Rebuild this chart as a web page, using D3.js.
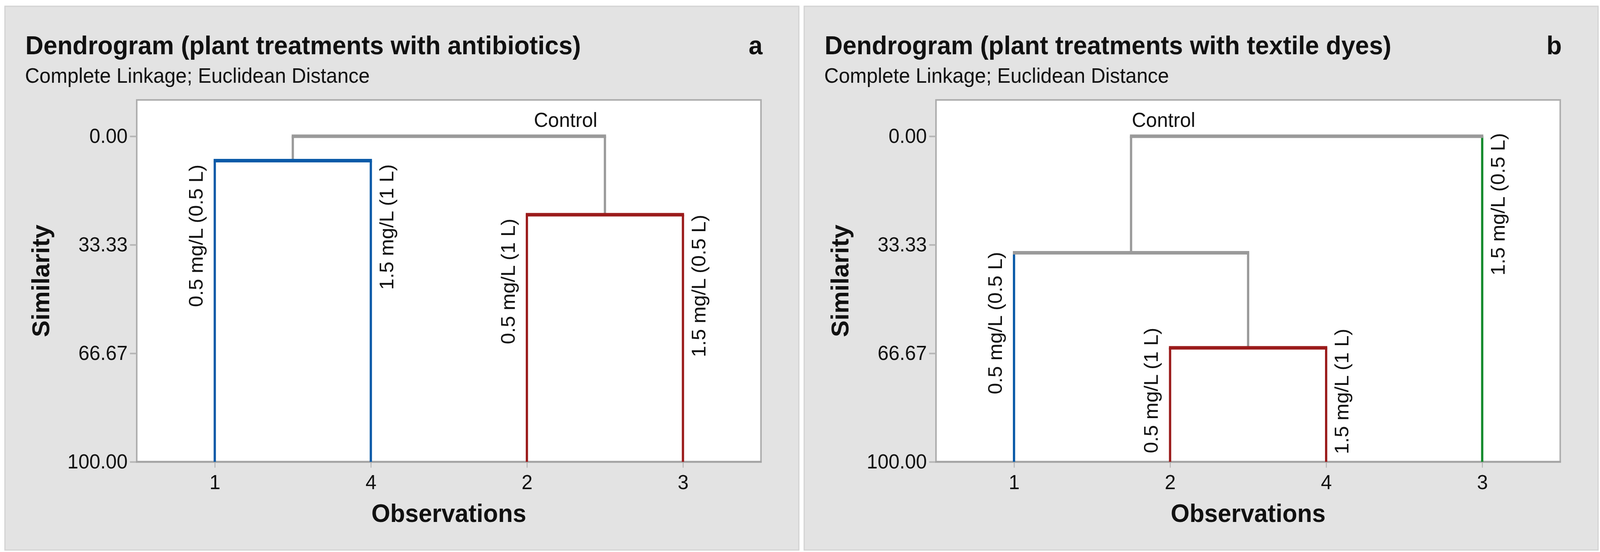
<!DOCTYPE html>
<html>
<head>
<meta charset="utf-8">
<script src="https://cdn.jsdelivr.net/npm/d3@7/dist/d3.min.js"></script>
<style>
  html, body { margin: 0; padding: 0; background: #ffffff; overflow: hidden; width: 100%; height: 100%; }
  svg { display: block; width: 100vw; height: 100vh; }
  text { font-family: "Liberation Sans", Arial, "DejaVu Sans", sans-serif; fill: #111; }
</style>
</head>
<body>
<script>
// ---------------- DATA ----------------
const subtitleText = "Complete Linkage; Euclidean Distance";
const yTickValues = [0, 33.33, 66.67, 100];
const yTickLabels = ["0.00", "33.33", "66.67", "100.00"];
const obsIds = ["1", "2", "3", "4"];
const obsLabels = ["0.5 mg/L (0.5 L)", "0.5 mg/L (1 L)", "1.5 mg/L (0.5 L)", "1.5 mg/L (1 L)"];

// Panel a: antibiotics
const titleA = "Dendrogram (plant treatments with antibiotics)";
const letterA = "a";
const orderA = ["1", "4", "2", "3"];
const leafGroupA = [1, 1, 2, 2];              // cluster membership (aligned with orderA)
const mergesA = [["1", "4"], ["2", "3"], ["m0", "m1"]];
const mergeSimA = [7.5, 24.1, 0];             // similarity at which merges occur
const mergeGroupA = [1, 2, 0];
const labelEndA = [8.7, 8.6, 25.3, 24.1];     // similarity where each leaf label ends

// Panel b: textile dyes
const titleB = "Dendrogram (plant treatments with textile dyes)";
const letterB = "b";
const orderB = ["1", "2", "4", "3"];
const leafGroupB = [1, 2, 2, 3];
const mergesB = [["2", "4"], ["1", "m0"], ["m1", "3"]];
const mergeSimB = [65.0, 35.8, 0];
const mergeGroupB = [2, 0, 0];
const labelEndB = [35.5, 58.8, 59.1, -1.0];

const rootLabel = "Control";

// ---------------- STYLE / LAYOUT ----------------
const W = 4224, H = 1414;
const groupColor = { 0: "#9a9a9a", 1: "#0a5aa8", 2: "#9b1b1b", 3: "#138a2c" };
const panels = [
  { dx: 0,    title: titleA, letter: letterA, order: orderA, leafGroup: leafGroupA,
    merges: mergesA, mergeSim: mergeSimA, mergeGroup: mergeGroupA, labelEnd: labelEndA,
    sides: ["left", "right", "left", "right"], rootAnchor: "end" },
  { dx: 2110, title: titleB, letter: letterB, order: orderB, leafGroup: leafGroupB,
    merges: mergesB, mergeSim: mergeSimB, mergeGroup: mergeGroupB, labelEnd: labelEndB,
    sides: ["left", "left", "right", "right"], rootAnchor: "start" }
];

const bg = { x: 13, y: 16, w: 2096, h: 1393 };
const plot = { x0: 361, x1: 2009, y0: 256, y1: 1183 };
const yZero = 349;

const svg = d3.select("body").append("svg")
  .attr("viewBox", `0 0 ${W} ${H}`)
  .attr("preserveAspectRatio", "none");
svg.append("rect").attr("width", W).attr("height", H).attr("fill", "#ffffff");

function drawPanel(p) {
  const g = svg.append("g").attr("transform", `translate(${p.dx},0)`);

  g.append("rect").attr("x", bg.x).attr("y", bg.y).attr("width", bg.w).attr("height", bg.h)
    .attr("fill", "#e3e3e3").attr("stroke", "#d3d3d3").attr("stroke-width", 3);

  g.append("text").attr("x", 67).attr("y", 139).attr("font-size", 66).attr("font-weight", "bold")
    .text(p.title);
  g.append("text").attr("x", plot.x1 + 4).attr("y", 139).attr("font-size", 66).attr("font-weight", "bold")
    .attr("text-anchor", "end").text(p.letter);
  g.append("text").attr("x", 66).attr("y", 212).attr("font-size", 53).text(subtitleText);

  // plot area
  g.append("rect").attr("x", plot.x0).attr("y", plot.y0)
    .attr("width", plot.x1 - plot.x0).attr("height", plot.y1 - plot.y0)
    .attr("fill", "#ffffff").attr("stroke", "#adadad").attr("stroke-width", 4);

  const y = d3.scaleLinear().domain([0, 100]).range([yZero, plot.y1]);
  const x = d3.scalePoint().domain(p.order).range([plot.x0, plot.x1]).padding(0.5);

  // y axis
  const yAxis = g.append("g").attr("transform", `translate(${plot.x0},0)`)
    .call(d3.axisLeft(y).tickValues(yTickValues).tickFormat((d, i) => yTickLabels[i])
      .tickSize(18).tickPadding(6));
  yAxis.select(".domain").remove();
  yAxis.selectAll(".tick line").attr("stroke", "#b5b5b5").attr("stroke-width", 4);
  yAxis.selectAll(".tick text").attr("font-size", 52).attr("fill", "#111")
    .attr("font-family", '"Liberation Sans", Arial, sans-serif');

  // x axis
  const xAxis = g.append("g").attr("transform", `translate(0,${plot.y1})`)
    .call(d3.axisBottom(x).tickSize(15).tickPadding(18));
  xAxis.select(".domain").remove();
  xAxis.selectAll(".tick line").attr("stroke", "#b5b5b5").attr("stroke-width", 2.5);
  xAxis.selectAll(".tick text").attr("font-size", 52).attr("fill", "#111")
    .attr("font-family", '"Liberation Sans", Arial, sans-serif');

  // bottom axis line (drawn over plot border)
  g.append("line").attr("x1", plot.x0 - 2).attr("x2", plot.x1 + 2)
    .attr("y1", plot.y1).attr("y2", plot.y1)
    .attr("stroke", "#a3a3a3").attr("stroke-width", 5);

  // axis titles
  g.append("text").attr("x", (plot.x0 + plot.x1) / 2).attr("y", 1337)
    .attr("text-anchor", "middle").attr("font-size", 64).attr("font-weight", "bold")
    .text("Observations");
  g.append("text").attr("transform", `translate(130,${(plot.y0 + plot.y1) / 2}) rotate(-90)`)
    .attr("text-anchor", "middle").attr("font-size", 64).attr("font-weight", "bold")
    .text("Similarity");

  // ---- dendrogram ----
  const nodes = {};
  p.order.forEach((id, i) => {
    nodes[id] = { x: x(id), sim: 100, leaf: true, group: p.leafGroup[i] };
  });
  const vSegs = [], hSegs = [];
  p.merges.forEach((m, k) => {
    const a = nodes[m[0]], b = nodes[m[1]];
    const s = p.mergeSim[k], grp = p.mergeGroup[k];
    [a, b].forEach(c => {
      vSegs.push({ x: c.x, s0: c.sim, s1: s, group: c.leaf ? c.group : grp });
    });
    hSegs.push({ xa: Math.min(a.x, b.x), xb: Math.max(a.x, b.x), s: s, group: grp });
    nodes["m" + k] = { x: (a.x + b.x) / 2, sim: s, leaf: false, group: grp, xa: a.x, xb: b.x };
  });

  const dg = g.append("g");
  dg.selectAll("line.v").data(vSegs).join("line").attr("class", "v")
    .attr("x1", d => d.x).attr("x2", d => d.x)
    .attr("y1", d => y(d.s0)).attr("y2", d => y(d.s1))
    .attr("stroke", d => groupColor[d.group]).attr("stroke-width", 6);
  dg.selectAll("line.h").data(hSegs).join("line").attr("class", "h")
    .attr("x1", d => d.xa - 3).attr("x2", d => d.xb + 3)
    .attr("y1", d => y(d.s)).attr("y2", d => y(d.s))
    .attr("stroke", d => groupColor[d.group]).attr("stroke-width", 9);

  // leaf labels
  const lbl = p.order.map((id, i) => ({
    id, text: obsLabels[obsIds.indexOf(id)], side: p.sides[i], end: p.labelEnd[i]
  }));
  dg.selectAll("text.leaf").data(lbl).join("text").attr("class", "leaf")
    .attr("transform", d => {
      const bx = d.side === "left" ? x(d.id) - 32 : x(d.id) + 59;
      return `translate(${bx},${y(d.end)}) rotate(-90)`;
    })
    .attr("text-anchor", "end").attr("font-size", 52).text(d => d.text);

  // root label
  const root = nodes["m" + (p.merges.length - 1)];
  g.append("text")
    .attr("x", p.rootAnchor === "end" ? root.xb - 20 : root.xa + 2)
    .attr("y", 325).attr("text-anchor", p.rootAnchor).attr("font-size", 52)
    .text(rootLabel);
}

panels.forEach(drawPanel);
</script>
</body>
</html>
